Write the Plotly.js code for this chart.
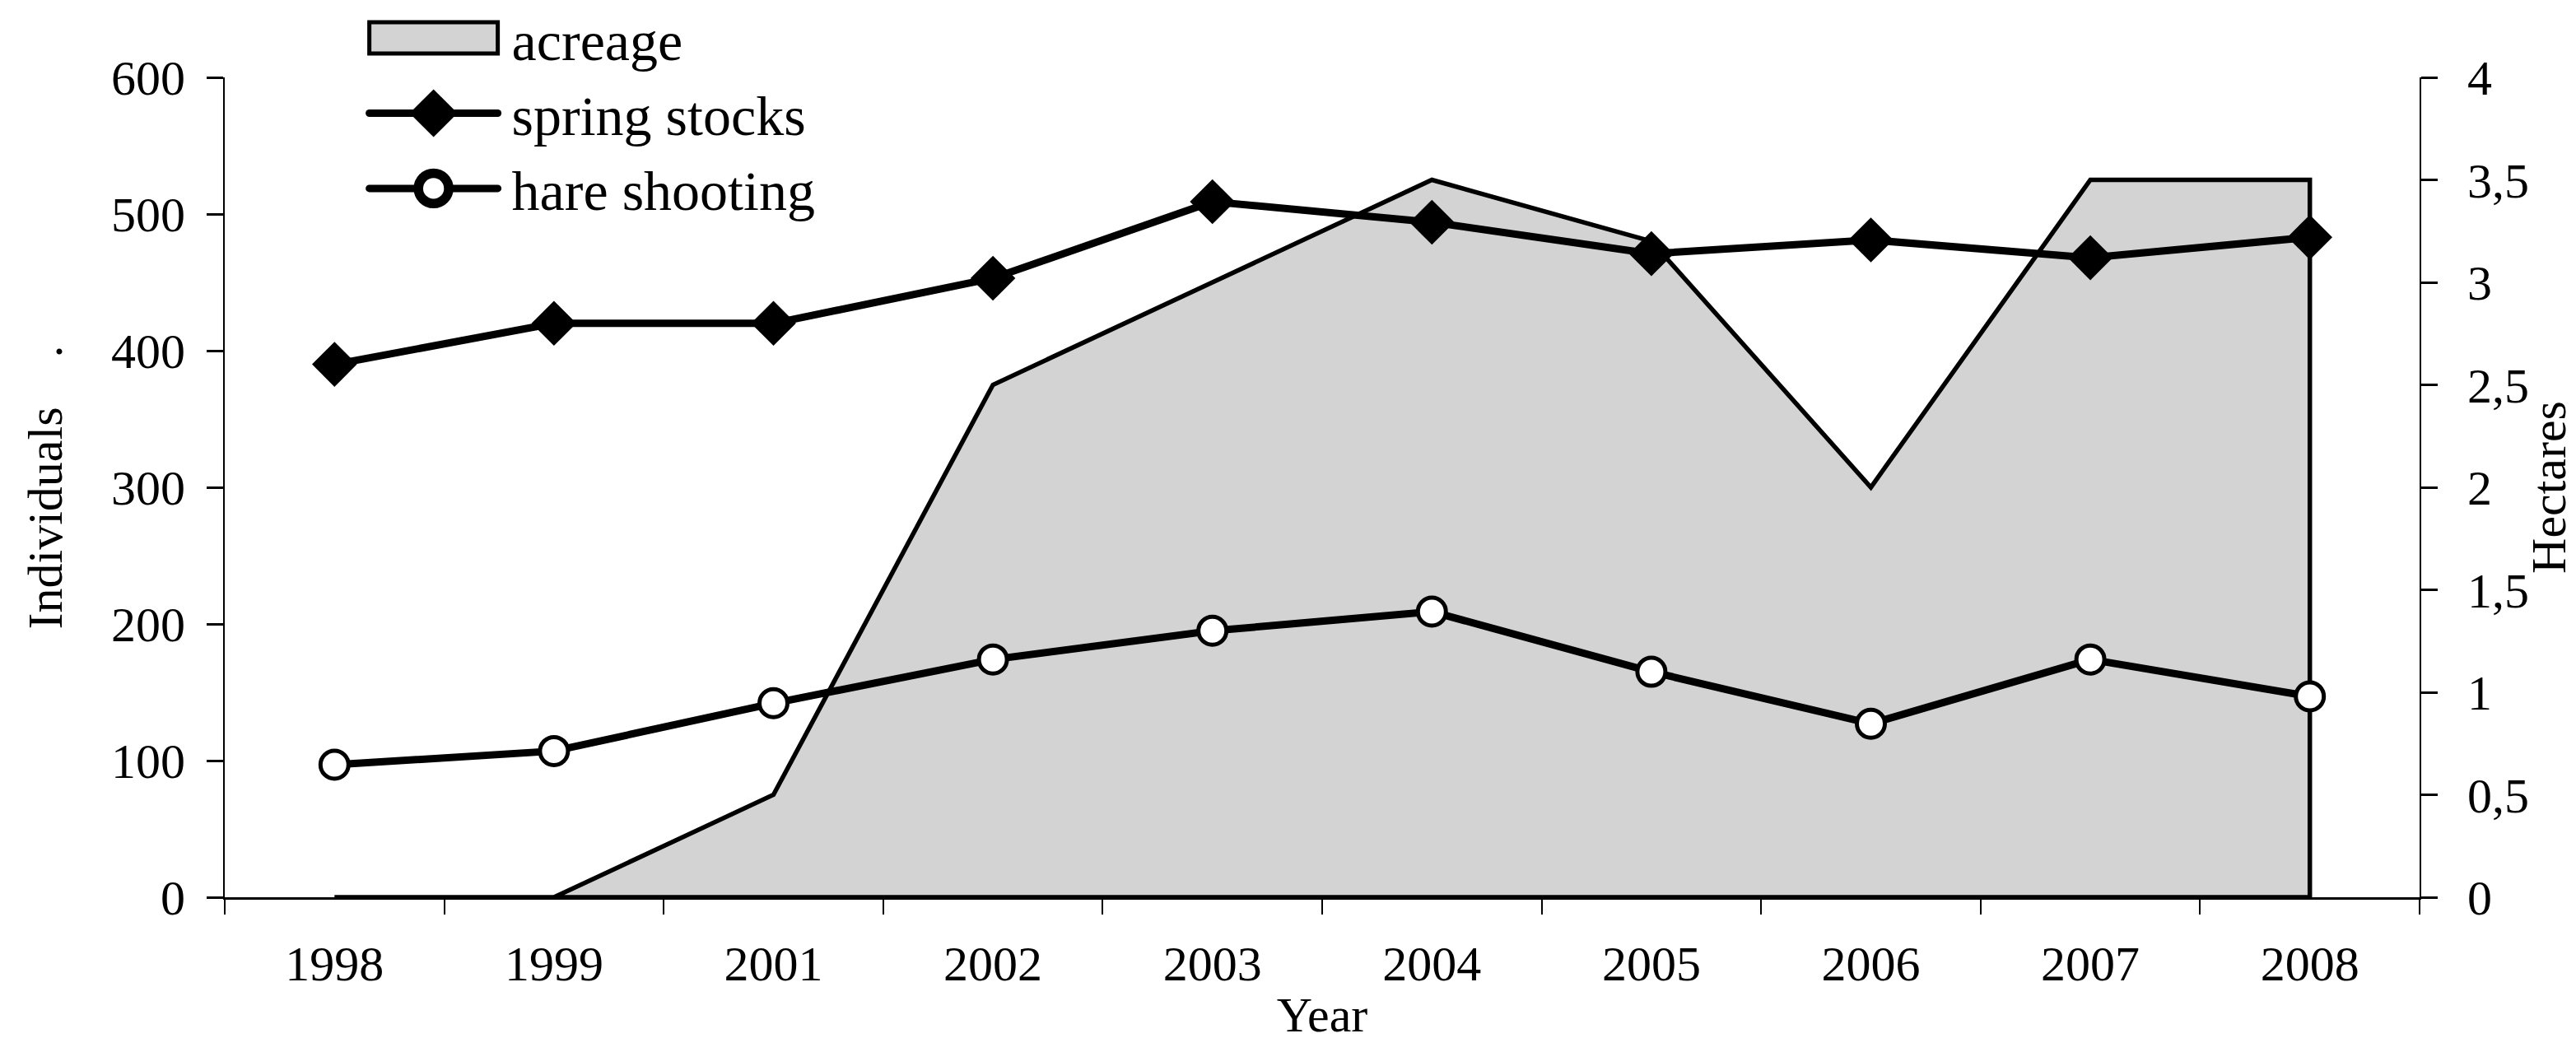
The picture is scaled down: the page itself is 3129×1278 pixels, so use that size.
<!DOCTYPE html>
<html>
<head>
<meta charset="utf-8">
<script src="https://cdn.plot.ly/plotly-3.0.1.min.js"></script>
<style>
  html, body { margin: 0; padding: 0; background: #ffffff; }
  #chart { width: 3129px; height: 1278px; }
</style>
</head>
<body>
<div id="chart"></div>
<script>
// ---- data ----
const years = ["1998", "1999", "2001", "2002", "2003", "2004", "2005", "2006", "2007", "2008"];
const acreage = [0, 0, 0.5, 2.5, 3.0, 3.5, 3.2, 2.0, 3.5, 3.5];          // hectares (right axis)
const springStocks = [390, 420, 420, 453, 509, 494, 471, 481, 468, 483];  // individuals (left axis)
const hareShooting = [97, 107, 142, 174, 195, 209, 165, 127, 174, 147];   // individuals (left axis)
const leftTicks = [0, 100, 200, 300, 400, 500, 600];
const rightTicks = [0, 0.5, 1, 1.5, 2, 2.5, 3, 3.5, 4];

const FONT = '"Liberation Serif", "Times New Roman", Times, serif';

// closed outline for the area (back down to the baseline and along it)
const areaX = years.concat([years[years.length - 1], years[0]]);
const areaY = acreage.concat([0, 0]);

const traces = [
  {
    name: "acreage", x: areaX, y: areaY, type: "scatter", mode: "lines",
    fill: "toself", fillcolor: "#d3d3d3",
    line: { color: "#000000", width: 5.5, shape: "linear" },
    xaxis: "x", yaxis: "y", legendgroup: "a", hoverinfo: "skip"
  },
  {
    name: "spring stocks", x: years, y: springStocks, type: "scatter", mode: "lines+markers",
    line: { color: "#000000", width: 9 },
    marker: { symbol: "diamond", size: 42, color: "#000000", line: { width: 0 } },
    xaxis: "x", yaxis: "y2", legendgroup: "b"
  },
  {
    name: "hare shooting", x: years, y: hareShooting, type: "scatter", mode: "lines+markers",
    line: { color: "#000000", width: 9 },
    marker: { symbol: "circle", size: 34, color: "#ffffff", line: { color: "#000000", width: 5 } },
    xaxis: "x", yaxis: "y2", legendgroup: "c"
  }
];

const layout = {
  width: 3129, height: 1278,
  paper_bgcolor: "#ffffff", plot_bgcolor: "#ffffff",
  separators: ",.",
  font: { family: FONT, size: 60, color: "#000000" },
  margin: { l: 273, r: 190, t: 94, b: 188, autoexpand: false },
  showlegend: true,
  legend: {
    x: 0.064, y: 1.099, xanchor: "left", yanchor: "top",
    font: { family: FONT, size: 68, color: "#000000" },
    bgcolor: "rgba(0,0,0,0)", traceorder: "grouped", tracegroupgap: 0,
    itemwidth: 168
  },
  xaxis: {
    type: "category", categoryorder: "array", categoryarray: years,
    range: [-0.5, years.length - 0.5],
    showline: true, linecolor: "#000000", linewidth: 3,
    ticks: "outside", tickson: "boundaries", ticklen: 18, tickwidth: 2, tickcolor: "#000000",
    ticklabelstandoff: 26,
    showgrid: false, zeroline: false,
    tickfont: { family: FONT, size: 60 },
    title: { text: "Year", font: { family: FONT, size: 60 }, standoff: 8 }
  },
  yaxis: {
    side: "right", range: [0, 4], tickvals: rightTicks,
    showline: true, linecolor: "#000000", linewidth: 2,
    ticks: "outside", ticklen: 20, tickwidth: 3, tickcolor: "#000000",
    ticklabelstandoff: 24,
    showgrid: false, zeroline: false,
    tickfont: { family: FONT, size: 60 },
    title: { text: "Hectares", font: { family: FONT, size: 60 }, standoff: 0 }
  },
  yaxis2: {
    overlaying: "y", side: "left", range: [0, 600], tickvals: leftTicks,
    showline: true, linecolor: "#000000", linewidth: 2,
    ticks: "outside", ticklen: 20, tickwidth: 3, tickcolor: "#000000",
    ticklabelstandoff: 14,
    showgrid: false, zeroline: false,
    tickfont: { family: FONT, size: 60 },
    title: { text: "Individuals\u00a0\u00a0\u00a0\u00a0.", font: { family: FONT, size: 60 }, standoff: 40 }
  }
};

// Enlarge the legend glyphs (Plotly caps legend symbol sizes) to match the reference key.
function styleLegend(gd) {
  const SVGNS = "http://www.w3.org/2000/svg";
  const GLYPH_W = 156;
  const items = gd.querySelectorAll("g.legend g.traces");
  items.forEach(function (item, i) {
    const line = item.querySelector("path.js-line");
    let x0 = 2;
    if (line) {
      try { const bb = line.getBBox(); if (bb.width > 0) { x0 = bb.x; } } catch (e) {}
    }
    if (i === 0) {
      let fill = item.querySelector("path.js-fill");
      if (!fill) {
        const host = (line && line.parentNode) || item.querySelector("g.legendpoints") || item;
        fill = document.createElementNS(SVGNS, "path");
        host.appendChild(fill);
      }
      fill.setAttribute("d", "M" + x0 + ",-19h" + GLYPH_W + "v38h" + (-GLYPH_W) + "z");
      fill.style.fill = "#d3d3d3";
      fill.style.fillOpacity = "1";
      fill.style.stroke = "#000000";
      fill.style.strokeWidth = "5px";
      if (line) line.style.display = "none";
    } else {
      if (line) {
        line.setAttribute("d", "M" + x0 + ",0h" + GLYPH_W);
        line.style.strokeWidth = "9px";
        line.style.strokeLinecap = "round";
      }
      item.querySelectorAll("path.scatterpts").forEach(function (p) {
        p.setAttribute("transform", "translate(" + (x0 + GLYPH_W / 2) + ",0) scale(" + (i === 1 ? 2.8 : 2.3) + ")");
      });
    }
  });
}

Plotly.newPlot("chart", traces, layout, { staticPlot: true, displayModeBar: false })
  .then(function (gd) { styleLegend(gd); });
</script>
</body>
</html>
